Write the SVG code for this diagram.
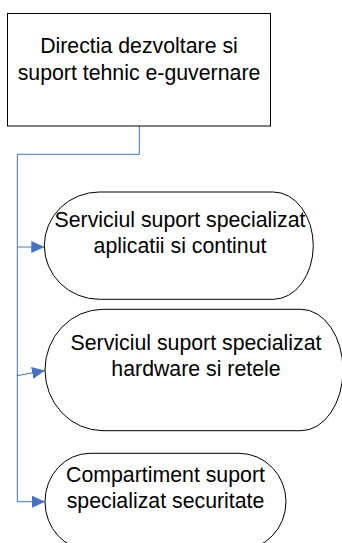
<svg xmlns="http://www.w3.org/2000/svg" width="342" height="543" viewBox="0 0 342 543">
  <style>
    .box { fill: #ffffff; stroke: #000000; stroke-width: 1; }
    .lbl { font-family: "Liberation Sans", Arial, sans-serif; font-size: 21.3px; fill: #000000; text-anchor: middle; }
    .link { fill: none; stroke: #4472C4; stroke-width: 1; }
  </style>
  <defs>
    <marker id="arrow" viewBox="0 0 13 12" refX="13" refY="6" markerWidth="13" markerHeight="12" markerUnits="userSpaceOnUse" orient="auto">
      <path d="M0,0 L13,6 L0,12 Z" fill="#4472C4"/>
    </marker>
  </defs>
  <rect width="342" height="543" fill="#ffffff"/>

  <!-- connectors: trunk from the direction box, branches to each unit -->
  <g id="connectors">
    <path class="link" d="M139.3,126 V154.3 H17.3 V501.7"/>
    <path class="link" d="M17.3,247 H44.3" marker-end="url(#arrow)"/>
    <path class="link" d="M17.3,375.7 L45,370.5" marker-end="url(#arrow)"/>
    <path class="link" d="M17.3,501.7 H45" marker-end="url(#arrow)"/>
  </g>

  <g id="node-directia">
    <rect class="box" x="7.5" y="13.5" width="263" height="112.5"/>
    <text class="lbl" x="139" y="52.5">Directia dezvoltare si</text>
    <text class="lbl" x="139" y="79.5">suport tehnic e-guvernare</text>
  </g>

  <g id="node-aplicatii">
    <path class="box" d="M99.3,192 H273.3 A40,53.65 0 0 1 273.3,299.3 H99.3 A55,53.65 0 0 1 99.3,192 Z"/>
    <text class="lbl" x="180" y="226.5">Serviciul suport specializat</text>
    <text class="lbl" x="180" y="252.8">aplicatii si continut</text>
  </g>

  <g id="node-hardware">
    <path class="box" d="M103,309.3 H301 A42,60.7 0 0 1 301,430.7 H103 A58,60.7 0 0 1 103,309.3 Z"/>
    <text class="lbl" x="196" y="350">Serviciul suport specializat</text>
    <text class="lbl" x="196" y="376">hardware si retele</text>
  </g>

  <g id="node-securitate">
    <path class="box" d="M90,453.3 H239 A47,48.4 0 0 1 239,550.1 H90 A45,48.4 0 0 1 90,453.3 Z"/>
    <text class="lbl" x="165.5" y="481.7">Compartiment suport</text>
    <text class="lbl" x="165.5" y="508.3">specializat securitate</text>
  </g>
</svg>
